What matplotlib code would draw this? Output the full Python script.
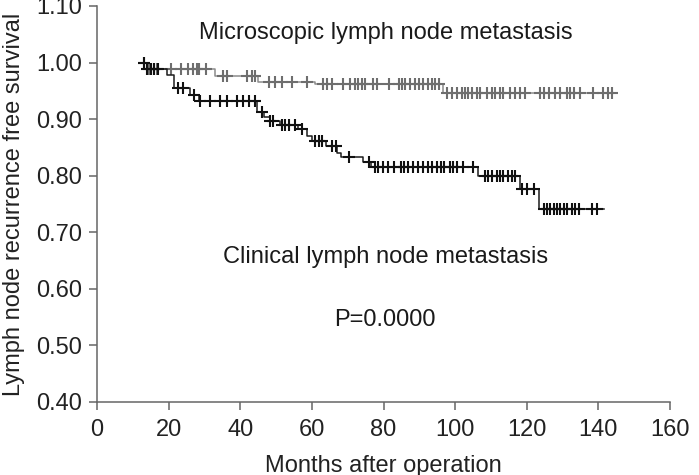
import numpy as np
import matplotlib.pyplot as plt

plt.rcParams['font.family'] = ['Liberation Sans', 'DejaVu Sans']

# Kaplan-Meier steps: time (months) where survival becomes the given level
micro_t = [12.5, 14, 33, 45, 61, 96.5]
micro_s = [1.000, 0.988, 0.976, 0.966, 0.962, 0.947]
micro_end = 144.7
micro_cens = [13, 14.5, 16, 16.7, 20.6, 23.5, 25.3, 26.9, 27.8, 28.5, 30.4,
              35.3, 36.3, 41.9, 43.3, 44.1,
              47.9, 49.7, 51.6, 54.4, 58.6,
              63.2, 64.2, 65.6, 68.8, 70.7, 72.1, 73, 73.9, 74.9, 77.2, 78.1,
              81.4, 84.2, 85.1, 86, 87.4, 88.8, 90, 91, 92.5, 93.5, 94.5, 95.5,
              97.7, 99, 100.5, 101.9, 102.8, 103.7, 104.7, 106.1, 107, 108.9,
              110.3, 111.2, 112.6, 113.5, 115.4, 116.8, 118.2, 119.6, 123.7,
              124.7, 126.1, 127.9, 129.3, 131.2, 132.1, 133.1, 134.9, 138.6,
              141.4, 142.8, 143.8]

clin_t = [12.5, 14, 19.5, 21.5, 26, 28.5, 44.6, 46.5, 48.3, 51, 56, 58.7, 60,
          64, 67, 68, 74.4, 76.5, 106.5, 118, 123.5]
clin_s = [1.000, 0.988, 0.978, 0.955, 0.942, 0.932, 0.912, 0.903, 0.897, 0.889,
          0.882, 0.870, 0.861, 0.852, 0.841, 0.833, 0.825, 0.815, 0.800, 0.777,
          0.741]
clin_end = 141.6
clin_cens = [13, 14, 15, 16, 17, 22.5, 24, 27, 28.8, 31.6, 34.4, 36.3, 39,
             40.8, 42.5, 44.2, 46, 48.3, 49.2, 51.6, 52.6, 53.5, 55.4, 57.3,
             61, 61.9, 62.9, 65.7, 66.6, 70.3, 75.9,
             77.5, 78.4, 79.8, 81.2, 83, 84.9, 85.8, 86.8, 88.2, 89.6, 91,
             92.5, 93.5, 95, 96, 97, 98.5, 99.5, 100.5, 102.3, 105,
             108.4, 109.3, 110.2, 111.6, 112.6, 113.5, 114.9, 115.8, 116.8,
             118.6, 120, 121.9,
             124.7, 125.6, 126.5, 127.5, 128.4, 129.3, 130.3, 131.2, 132.6,
             133.5, 134.5, 138.2, 139.6]

xticks = [0, 20, 40, 60, 80, 100, 120, 140, 160]
yticks = [0.40, 0.50, 0.60, 0.70, 0.80, 0.90, 1.00, 1.10]


def level_at(t_steps, s_steps, times):
    idx = np.searchsorted(t_steps, times, side='right') - 1
    return np.array(s_steps)[idx]


fig = plt.figure(figsize=(6.99, 4.75), dpi=100)
ax = fig.add_axes([97/699, 1-402/475, 573/699, 396/475])

for t, s, end, cens, lc, mc in [
        (micro_t, micro_s, micro_end, micro_cens, '#8c8c8c', '#6e6e6e'),
        (clin_t, clin_s, clin_end, clin_cens, '#1c1c1c', '#111111')]:
    ax.step(t + [end], s + [s[-1]], where='post', color=lc, lw=1.1)
    ax.plot(cens, level_at(t, s, cens), '+', color=mc, ms=8, mew=1.5,
            linestyle='none')

ax.text(80.7, 1.052, 'Microscopic lymph node metastasis', fontsize=17,
        ha='center', va='center', color='#1a1a1a')
ax.text(80.7, 0.657, 'Clinical lymph node metastasis', fontsize=17,
        ha='center', va='center', color='#1a1a1a')
ax.text(80.4, 0.545, 'P=0.0000', fontsize=17, ha='center', va='center',
        color='#1a1a1a')

ax.set_xlim(0, 160)
ax.set_ylim(0.40, 1.10)
ax.set_xticks(xticks)
ax.set_yticks(yticks)
ax.set_yticklabels(['%.2f' % v for v in yticks])
for side in ['top', 'right']:
    ax.spines[side].set_visible(False)
for side in ['left', 'bottom']:
    ax.spines[side].set_color('#666666')
    ax.spines[side].set_linewidth(1.1)
ax.tick_params(direction='out', length=6, width=1.1, color='#666666',
               labelsize=17, labelcolor='#222222')
ax.tick_params(axis='x', pad=6)
ax.tick_params(axis='y', pad=5)

ax.set_xlabel('Months after operation', fontsize=17, color='#222222')
ax.xaxis.set_label_coords(0.5, -0.133)
ax.set_ylabel('Lymph node recurrence free survival', fontsize=17,
              color='#222222')
ax.yaxis.set_label_coords(-0.125, 0.5)

fig.savefig('out.png', dpi=100)
